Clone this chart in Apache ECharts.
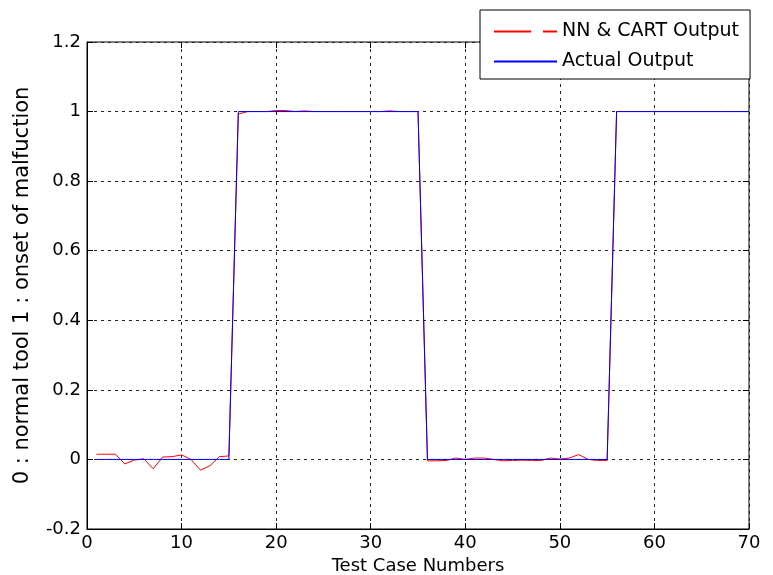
<!DOCTYPE html>
<html>
<head>
<meta charset="utf-8">
<script src="https://cdn.jsdelivr.net/npm/echarts@6/dist/echarts.min.js"></script>
<style>
  html, body { margin: 0; padding: 0; background: #fff; }
  #chart { width: 773px; height: 575px; }
</style>
</head>
<body>
<div id="chart"></div>
<script>
// test case numbers 1..70
var caseNumbers = [
  1, 2, 3, 4, 5, 6, 7, 8, 9, 10, 11, 12, 13, 14, 15, 16, 17, 18, 19, 20,
  21, 22, 23, 24, 25, 26, 27, 28, 29, 30, 31, 32, 33, 34, 35, 36, 37, 38, 39, 40,
  41, 42, 43, 44, 45, 46, 47, 48, 49, 50, 51, 52, 53, 54, 55, 56, 57, 58, 59, 60,
  61, 62, 63, 64, 65, 66, 67, 68, 69, 70
];

// NN & CART output
var nnCartOutput = [
  0.015, 0.015, 0.015, -0.013, -0.002, 0.002, -0.027, 0.007, 0.008, 0.013,
  0.000, -0.031, -0.018, 0.008, 0.010, 0.993, 1.000, 1.000, 1.000, 1.003,
  1.003, 1.000, 1.002, 1.000, 1.000, 1.000, 1.000, 1.000, 1.000, 1.000,
  1.000, 1.002, 1.000, 1.000, 1.000, -0.004, -0.004, -0.003, 0.004, 0.000,
  0.004, 0.004, 0.000, -0.004, -0.003, -0.002, -0.003, -0.003, 0.004, 0.001,
  0.004, 0.014, 0.000, -0.003, -0.003, 1.000, 1.000, 1.000, 1.000, 1.000,
  1.000, 1.000, 1.000, 1.000, 1.000, 1.000, 1.000, 1.000, 1.000, 1.000
];

// actual output
var actualOutput = [
  0, 0, 0, 0, 0, 0, 0, 0, 0, 0, 0, 0, 0, 0, 0,
  1, 1, 1, 1, 1, 1, 1, 1, 1, 1, 1, 1, 1, 1, 1, 1, 1, 1, 1, 1,
  0, 0, 0, 0, 0, 0, 0, 0, 0, 0, 0, 0, 0, 0, 0, 0, 0, 0, 0, 0,
  1, 1, 1, 1, 1, 1, 1, 1, 1, 1, 1, 1, 1, 1, 1
];

var xTicks = { min: 0, max: 70, interval: 10 };
var yTicks = { min: -0.2, max: 1.2, interval: 0.2 };

function pairs(ys) {
  return caseNumbers.map(function (x, i) { return [x, ys[i]]; });
}

var font = "DejaVu Sans";
var gridLine = { show: true, lineStyle: { color: "#222", width: 1, type: [3, 4] } };
var tick = { show: true, inside: true, length: 6, lineStyle: { color: "#000" } };

var chart = echarts.init(document.getElementById("chart"));
chart.setOption({
  animation: false,
  backgroundColor: "#fff",
  textStyle: { fontFamily: font },
  grid: {
    left: 87, right: 24, top: 42, bottom: 46,
    show: true, borderColor: "#000", borderWidth: 1,
    outerBoundsMode: "none"
  },
  legend: {
    orient: "vertical",
    left: 480, top: 10,
    padding: [12, 11, 8, 13],
    itemWidth: 63, itemHeight: 14, itemGap: 11,
    backgroundColor: "#fff",
    borderColor: "#000", borderWidth: 1,
    itemStyle: { opacity: 0 },
    textStyle: { fontFamily: font, fontSize: 19, color: "#000" },
    data: [
      { name: "NN & CART Output", lineStyle: { type: [37, 12] } },
      { name: "Actual Output" }
    ]
  },
  xAxis: [{
    type: "value",
    min: xTicks.min, max: xTicks.max, interval: xTicks.interval,
    name: "Test Case Numbers",
    nameLocation: "middle", nameGap: 27,
    nameTextStyle: { fontFamily: font, fontSize: 18, color: "#000" },
    axisLine: { show: true, onZero: false, lineStyle: { color: "#000" } },
    axisTick: tick,
    axisLabel: { fontFamily: font, fontSize: 18, color: "#000", margin: 5 },
    splitLine: gridLine
  }, {
    type: "value", position: "top",
    min: xTicks.min, max: xTicks.max, interval: xTicks.interval,
    axisLine: { show: false, onZero: false },
    axisTick: tick,
    axisLabel: { show: false },
    splitLine: { show: false }
  }],
  yAxis: [{
    type: "value",
    min: yTicks.min, max: yTicks.max, interval: yTicks.interval,
    name: "0 : normal tool 1 : onset of malfuction",
    nameLocation: "middle", nameGap: 54,
    nameTextStyle: { fontFamily: font, fontSize: 21, color: "#000" },
    axisLine: { show: true, onZero: false, lineStyle: { color: "#000" } },
    axisTick: tick,
    axisLabel: { fontFamily: font, fontSize: 18, color: "#000", margin: 6 },
    splitLine: gridLine
  }, {
    type: "value", position: "right",
    min: yTicks.min, max: yTicks.max, interval: yTicks.interval,
    axisLine: { show: false, onZero: false },
    axisTick: tick,
    axisLabel: { show: false },
    splitLine: { show: false }
  }],
  series: [{
    name: "NN & CART Output",
    type: "line",
    symbol: "none",
    color: "#ff0000",
    lineStyle: { color: "#ff0000", width: 1 },
    data: pairs(nnCartOutput)
  }, {
    name: "Actual Output",
    type: "line",
    symbol: "none",
    color: "#0000ff",
    lineStyle: { color: "#0000ff", width: 1 },
    data: pairs(actualOutput)
  }]
});
</script>
</body>
</html>
